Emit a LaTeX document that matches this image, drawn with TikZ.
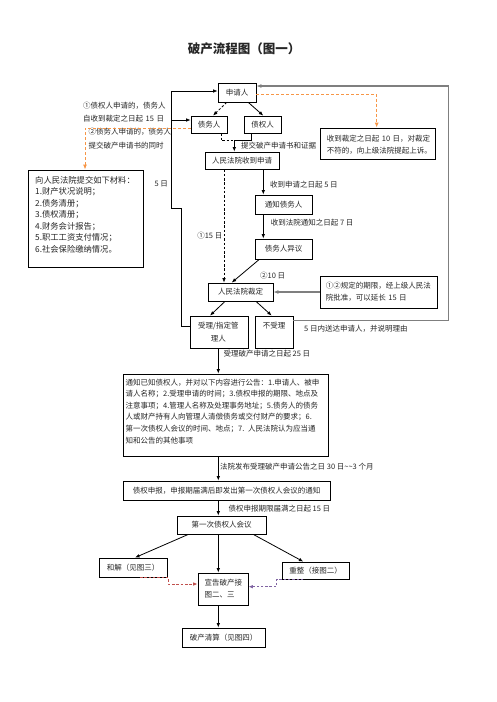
\documentclass[tikz,border=0pt]{standalone}
\usepackage{fontspec}
\setmainfont{Noto Sans CJK SC}
\usepackage{xcolor}
\definecolor{txtc}{HTML}{262626}
\definecolor{orgc}{HTML}{F79646}
\definecolor{redc}{HTML}{C0504D}
\definecolor{purc}{HTML}{8064A2}
\definecolor{grayc}{HTML}{7F7F7F}
\usetikzlibrary{arrows.meta}
\begin{document}
\begin{tikzpicture}[x=1pt,y=-1pt,
  box/.style={draw=black, line width=0.8pt, inner sep=0pt, font=\fontsize{7.5}{12}\selectfont, text=txtc},
  lbl/.style={inner sep=0pt, font=\fontsize{7.5}{12}\selectfont, text=txtc},
  mlbl/.style={lbl, align=left, anchor=base west},
  tip/.style={-{Latex[length=4.5pt,width=3.6pt]}},
  ln/.style={draw=black, line width=0.8pt},
  arr/.style={ln, tip},
  dsh/.style={dash pattern=on 2.5pt off 1.8pt},
  gln/.style={draw=grayc, line width=1.5pt, -{Latex[length=5pt,width=4pt]}},
  org/.style={draw=orgc, line width=1pt, dash pattern=on 3pt off 2pt, -{Latex[length=5pt,width=4pt]}},
  redd/.style={draw=redc, line width=0.9pt, dash pattern=on 2.5pt off 1.8pt, -{Latex[length=4.5pt,width=3.6pt]}},
  purd/.style={draw=purc, line width=0.9pt, dash pattern=on 2.5pt off 1.8pt, -{Latex[length=4.5pt,width=3.6pt]}}
]
\fill[white] (0,0) rectangle (496,702);
\useasboundingbox (0,0) rectangle (496,702);

\coordinate (ax) at (218.3,0);

% title
\node[inner sep=0pt, text=txtc, font=\fontsize{12.5}{15}\selectfont\bfseries] (title) at (244,48.3) {破产流程图（图一）};

% boxes
\node[box,minimum width=38pt,minimum height=19pt] (sq) at (237,92.5) {申请人};
\node[box,minimum width=36pt,minimum height=17pt] (zw) at (209,124.5) {债务人};
\node[box,minimum width=37pt,minimum height=17pt] (zq) at (262.5,124.5) {债权人};
\node[box,minimum width=74pt,minimum height=17pt] (sd) at (242,160.5) {人民法院收到申请};
\node[box,minimum width=115pt,minimum height=31pt] (ss) at (377.5,143.5) {};
\node[mlbl,text width=112pt,font=\fontsize{7.5}{12.7}\selectfont] (sst) at (326.7,141.2) {收到裁定之日起 10 日，对裁定\\不符的，向上级法院提起上诉。};

\node[box,minimum width=115pt,minimum height=97pt] (cl) at (85.5,218.5) {};
\node[mlbl,text width=110pt,font=\fontsize{8.3}{11.5}\selectfont] (clt) at (35,183.2) {向人民法院提交如下材料：\\1.财产状况说明；\\2.债务清册；\\3.债权清册；\\4.财务会计报告；\\5.职工工资支付情况；\\6.社会保险缴纳情况。};

\node[mlbl,text width=100pt,font=\fontsize{7.5}{13}\selectfont] (ann1) at (83,108.85) {①债权人申请的，债务人\\自收到裁定之日起 15 日};
\node[mlbl,text width=100pt,font=\fontsize{7.5}{13.3}\selectfont] (ann2) at (88.3,134.85) {②债务人申请的，债务人\\提交破产申请书的同时};

\node[box,minimum width=57pt,minimum height=19pt] (tz) at (283.5,204.5) {通知债务人};
\node[box,minimum width=57pt,minimum height=20pt] (yy) at (283.5,249) {债务人异议};
\node[box,minimum width=65pt,minimum height=18pt] (cd) at (240.5,292) {人民法院裁定};
\node[box,minimum width=117pt,minimum height=32pt] (yq) at (378.5,292) {};
\node[mlbl,text width=112pt] (yqt) at (325.7,288.55) {①②规定的期限，经上级人民法\\院批准，可以延长 15 日};

\node[box,minimum width=58pt,minimum height=32pt] (sl) at (219,332) {};
\node[lbl,text width=56pt,align=center,anchor=base,font=\fontsize{7.5}{13}\selectfont] (slt) at (218.3,328.85) {受理/指定管\\理人};
\node[box,minimum width=38pt,minimum height=32pt] (bsl) at (274,332) {};
\node[lbl] (bslt) at (274,326) {不受理};

\node[box,minimum width=205pt,minimum height=82pt] (gg) at (225.5,415) {};
\node[mlbl,text width=200pt,font=\fontsize{7.5}{11.6}\selectfont] (ggt) at (125.5,385.15) {通知已知债权人，并对以下内容进行公告：1.申请人、被申\\请人名称；2.受理申请的时间；3.债权申报的期限、地点及\\注意事项；4.管理人名称及处理事务地址；5.债务人的债务\\人或财产持有人向管理人清偿债务或交付财产的要求；6.\\第一次债权人会议的时间、地点；7. 人民法院认为应当通\\知和公告的其他事项};

\node[box,minimum width=207pt,minimum height=19pt] (sb) at (226.5,490.5) {债权申报，申报期届满后即发出第一次债权人会议的通知};
\node[box,minimum width=89pt,minimum height=18pt] (hy) at (221.5,525) {第一次债权人会议};
\node[box,minimum width=68pt,minimum height=19pt] (hj) at (133,567.5) {和解（见图三）};
\node[box,minimum width=67pt,minimum height=17pt] (cz) at (315.5,570.5) {重整（接图二）};
\node[box,minimum width=50pt,minimum height=32pt] (xg) at (223,589) {};
\node[mlbl,text width=48pt,font=\fontsize{7.5}{12.3}\selectfont] (xgt) at (204.3,585.55) {宣告破产接\\图二、三};
\node[box,minimum width=83pt,minimum height=19pt] (qs) at (223.5,637.5) {破产清算（见图四）};

% labels
\node[lbl,anchor=west] (l1) at (241,145.3) {提交破产申请书和证据};
\node[lbl,anchor=west] (l2) at (154.3,184) {5 日};
\node[lbl,anchor=west] (l3) at (270,184.3) {收到申请之日起 5 日};
\node[lbl,anchor=west] (l4) at (270.7,222.7) {收到法院通知之日起 7 日};
\node[lbl,anchor=east] (l5) at (222.5,236) {①15 日};
\node[lbl,anchor=west] (l6) at (260,275.7) {②10 日};
\node[lbl,anchor=west] (l7) at (304,329) {5 日内送达申请人，并说明理由};
\node[lbl,anchor=west] (l8) at (223.3,353.3) {受理破产申请之日起 25 日};
\node[lbl,anchor=west] (l9) at (220,466.7) {法院发布受理破产申请公告之日 30 日\textasciitilde\textasciitilde 3 个月};
\node[lbl,anchor=west] (l10) at (228.3,509) {债权申报期限届满之日起 15 日};

% connectors
\coordinate (rt) at (448.3,320.7);
\coordinate (rtop) at (448.3,86);
\draw[gln] (bsl.east |- rt) -- (rt) -- (rtop) -- (sq.east |- rtop);
\coordinate (oc) at (376.7,94);
\draw[org] (sq.east |- oc) -- (oc) -- (ss.north -| oc);

\draw[arr,dsh] (sq.south -| 226.7,0) -- (zw.north -| 213,0);
\draw[arr] (sq.south -| 248.3,0) -- (zq.north -| 263.3,0);
\coordinate (mj) at (234.3,140.7);
\draw[ln,dsh] (zw.south -| 221,0) |- (mj);
\draw[ln] (zq.south -| 251.7,0) |- (mj);
\draw[arr] (mj) -- (sd.north -| mj);

\coordinate (lp1) at (181.7,208.3);
\coordinate (lp2) at (171.7,91);
\coordinate (lp3) at (171.7,120);
\draw[arr] (sl.west |- 0,326.7) -| (lp1) -| (lp2) -- (sq.west |- lp2);
\draw[arr] (lp3) -- (zw.west |- lp3);

\coordinate (oc2) at (85,128);
\draw[org] (zw.west |- oc2) -- (oc2) -- (cl.north -| oc2);

\draw[arr] (sd.south -| 263.3,0) -- (tz.north -| 263.3,0);
\draw[arr] (tz.south -| 263.3,0) -- (yy.north -| 263.3,0);
\draw[arr,dsh] (sd.south -| 224,0) -- (cd.north -| 224,0);
\draw[arr] (yy.south -| 259.3,0) -- (cd.north -| 231.7,0);
\draw[gln] (yq.west) -- (cd.east);
\draw[arr] (cd.south -| 225,0) -- (sl.north -| 210,0);
\draw[arr] (cd.south -| 256,0) -- (bsl.north -| 271.7,0);

\draw[arr] (sl.south -| ax) -- (gg.north -| ax);
\draw[arr] (gg.south -| ax) -- (sb.north -| ax);
\draw[arr] (sb.south -| ax) -- (hy.north -| ax);
\draw[arr] (hy.south -| 188.3,0) -- (hj.north -| 135,0);
\draw[arr] (hy.south -| ax) -- (xg.north -| ax);
\draw[arr] (hy.south -| 253.3,0) -- (cz.north -| 303.3,0);
\draw[arr] (xg.south -| ax) -- (qs.north -| ax);

\coordinate (rd) at (168.3,584);
\draw[redd] (hj.south -| 140,0) -- (hj.south -| rd) -- (rd) -- (xg.west |- rd);
\coordinate (pd) at (276.7,586.7);
\draw[purd] (cz.south -| 303.3,0) -- (cz.south -| pd) -- (pd) -- (xg.east |- pd);
\end{tikzpicture}
\end{document}
